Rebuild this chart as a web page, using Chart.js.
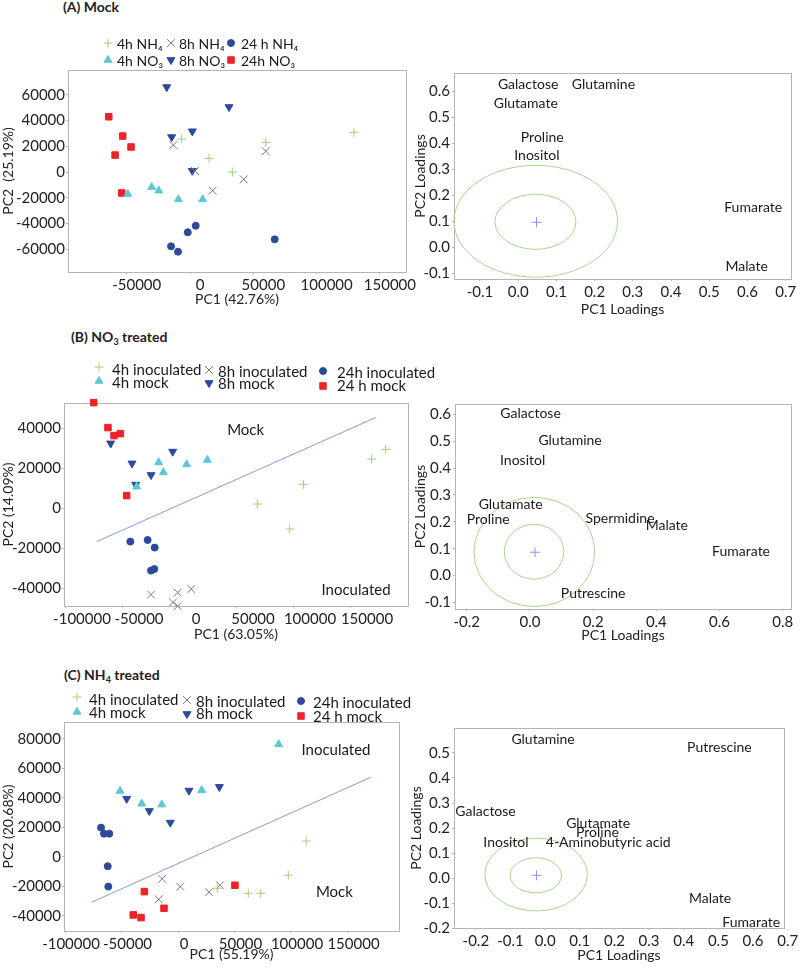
<!DOCTYPE html>
<html><head><meta charset="utf-8">
<script src="https://cdn.jsdelivr.net/npm/chart.js@4/dist/chart.umd.min.js"></script>
<style>
body{margin:0;background:#fff;width:800px;height:971px;position:relative;overflow:hidden;font-family:Lato,"Open Sans","DejaVu Sans",sans-serif;}
.ttl{position:absolute;font-weight:bold;font-size:14px;color:#222;line-height:16px;white-space:nowrap;}
.ttl sub{font-size:9px;vertical-align:-3px;line-height:0;}
canvas{position:absolute;}
</style></head><body>
<div class="ttl" style="left:63px;top:-1px">(A) Mock</div>
<div class="ttl" style="left:71px;top:329px">(B) NO<sub>3</sub> treated</div>
<div class="ttl" style="left:64px;top:667px">(C) NH<sub>4</sub> treated</div>
<script>
// ---------- DATA ----------
// Panel A (Mock) scores [PC1, PC2]
const A_labels = ['4h NH₄','8h NH₄','24 h NH₄','4h NO₃','8h NO₃','24h NO₃'];
const A_4hNH4  = [[-6600,25700],[15000,10600],[33400,0],[59800,23100],[129500,30900]];
const A_8hNH4  = [[-13200,21000],[3900,800],[17900,-14500],[42400,-5700],[59800,16300]];
const A_24hNH4 = [[-15000,-57800],[-9500,-62000],[-1800,-46900],[4500,-41800],[66900,-52400]];
const A_4hNO3  = [[-49200,-17100],[-30300,-11700],[-24700,-14500],[-9200,-21300],[10000,-21300]];
const A_8hNO3  = [[-18400,66100],[-14500,27200],[1800,31700],[1800,1000],[30800,50600]];
const A_24hNO3 = [[-64200,43000],[-53200,28000],[-59200,13200],[-46600,19500],[-54000,-16300]];
const A_xTicks = [-50000,0,50000,100000,150000];
const A_yTicks = [-60000,-40000,-20000,0,20000,40000,60000];

// Panel B (NO3 treated) scores
const B_labels = ['4h inoculated','8h inoculated','24h inoculated','4h mock','8h mock','24 h mock'];
const B_4hInoc  = [[67800,2000],[96200,-10500],[108200,11800],[168100,24500],[180400,29300]];
const B_8hInoc  = [[-25400,-43300],[-6100,-47200],[-2000,-42300],[-2000,-49000],[9900,-40500]];
const B_24hInoc = [[-43600,-16800],[-28400,-16000],[-22200,-19800],[-25400,-31300],[-22500,-30500]];
const B_4hMock  = [[-38000,10700],[-18700,22800],[-14600,17800],[5800,21800],[24000,24000]];
const B_8hMock  = [[-60800,32300],[-42100,22300],[-38900,11700],[-25400,16500],[-6400,28200]];
const B_24hMock = [[-75700,52700],[-63200,40200],[-57900,36200],[-52300,37200],[-46800,6200]];
const B_line = [[-73100,-16800],[171900,45300]];
const B_noteText = ['Mock','Inoculated'];
const B_notePos = [[57600,38700],[154400,-41300]];
const B_xTicks = [-100000,-50000,0,50000,100000,150000];
const B_yTicks = [-40000,-20000,0,20000,40000];

// Panel C (NH4 treated) scores
const C_labels = ['4h inoculated','8h inoculated','24h inoculated','4h mock','8h mock','24 h mock'];
const C_4hInoc  = [[34800,-21200],[62200,-24600],[73200,-24600],[97600,-12400],[113500,10800]];
const C_8hInoc  = [[-17100,-28700],[-13900,-14900],[2000,-20100],[27400,-23900],[37200,-19200]];
const C_24hInoc = [[-68100,19900],[-65500,15800],[-60800,15800],[-62200,-6300],[-61700,-20100]];
const C_4hMock  = [[-51300,44700],[-32100,36100],[-14400,35500],[21000,45200],[89100,76400]];
const C_8hMock  = [[-45400,39500],[-25400,31200],[-6800,23300],[9700,45000],[36600,47500]];
const C_24hMock = [[-39600,-39300],[-32700,-41100],[-29800,-23500],[-12400,-34800],[50400,-19200]];
const C_line = [[-76400,-30700],[170500,54000]];
const C_noteText = ['Inoculated','Mock'];
const C_notePos = [[139800,72500],[138400,-24200]];
const C_xTicks = [-100000,-50000,0,50000,100000,150000];
const C_yTicks = [-40000,-20000,0,20000,40000,60000,80000];

// Loadings
const LA_names = ['Galactose','Glutamine','Glutamate','Proline','Inositol','Fumarate','Malate'];
const LA_x = [0.026,0.223,0.020,0.063,0.049,0.615,0.598];
const LA_y = [0.627,0.627,0.554,0.422,0.351,0.154,-0.075];
const LA_ell = [[0.046,0.100,0.214,0.215],[0.045,0.098,0.106,0.106]];
const LA_center = [0.048,0.096];
const LA_xTicks = [-0.1,0,0.1,0.2,0.3,0.4,0.5,0.6,0.7];
const LA_yTicks = [-0.1,0,0.1,0.2,0.3,0.4,0.5,0.6];

const LB_names = ['Galactose','Glutamine','Inositol','Glutamate','Proline','Spermidine','Malate','Fumarate','Putrescine'];
const LB_x = [0.002,0.127,-0.023,-0.061,-0.132,0.285,0.433,0.668,0.200];
const LB_y = [0.601,0.504,0.428,0.263,0.207,0.212,0.186,0.088,-0.067];
const LB_ell = [[0.014,0.088,0.191,0.203],[0.013,0.089,0.094,0.102]];
const LB_center = [0.016,0.087];
const LB_xTicks = [-0.2,0,0.2,0.4,0.6,0.8];
const LB_yTicks = [-0.1,0,0.1,0.2,0.3,0.4,0.5,0.6];

const LC_names = ['Glutamine','Putrescine','Galactose','Glutamate','Proline','Inositol','4-Aminobutyric acid','Malate','Fumarate'];
const LC_x = [-0.006,0.503,-0.172,0.153,0.151,-0.113,0.182,0.476,0.595];
const LC_y = [0.555,0.522,0.265,0.219,0.182,0.142,0.142,-0.080,-0.175];
const LC_ell = [[-0.026,0.015,0.148,0.145],[-0.027,0.012,0.074,0.070]];
const LC_center = [-0.025,0.012];
const LC_xTicks = [-0.2,-0.1,0,0.1,0.2,0.3,0.4,0.5,0.6,0.7];
const LC_yTicks = [-0.2,-0.1,0,0.1,0.2,0.3,0.4,0.5];

// ---------- STYLES ----------
const FONT = 'Lato, "Open Sans", "DejaVu Sans", sans-serif';
Chart.defaults.font.family = FONT;
Chart.defaults.font.size = 14;
Chart.defaults.color = '#222';
const ST = [
  {style:'cross',    r:4.5, color:'#9ed27e', bw:1},
  {style:'crossRot', r:5.5, color:'#7a7a7a', bw:1},
  {style:'circle',   r:3.5, color:'#2c4a9c', bw:1},
  {style:'triangle', r:4.6, color:'#5fc6d6', bw:1},
  {style:'triangle', r:4.6, color:'#2c4a9c', bw:1, rot:180},
  {style:'rect',     r:4.6, color:'#ee2228', bw:1}
];
const AXIS = '#b5b5b5';

// ---------- PLUGINS ----------
const framePlugin = {id:'frame', beforeDatasetsDraw(c){
  const {left,top,right,bottom} = c.chartArea, ctx = c.ctx;
  ctx.save(); ctx.strokeStyle = AXIS; ctx.lineWidth = 1;
  ctx.strokeRect(Math.round(left)+0.5, Math.round(top)+0.5, Math.round(right-left), Math.round(bottom-top));
  ctx.restore();
}};
const ellipsePlugin = {id:'ellipses', beforeDatasetsDraw(c, a, o){
  if(!o.items) return;
  const xs = c.scales.x, ys = c.scales.y, ctx = c.ctx;
  ctx.save(); ctx.strokeStyle = o.color || '#a5d890'; ctx.lineWidth = 1;
  o.items.forEach(e => {
    const px = xs.getPixelForValue(e[0]), py = ys.getPixelForValue(e[1]);
    const rx = Math.abs(xs.getPixelForValue(e[0]+e[2]) - px);
    const ry = Math.abs(ys.getPixelForValue(e[1]+e[3]) - py);
    ctx.beginPath(); ctx.ellipse(px, py, rx, ry, 0, 0, Math.PI*2); ctx.stroke();
  });
  ctx.restore();
}};
const textPlugin = {id:'textLabels', afterDatasetsDraw(c){
  const ctx = c.ctx;
  c.data.datasets.forEach((ds, i) => {
    if(!ds.textLabels) return;
    const meta = c.getDatasetMeta(i);
    ctx.save(); ctx.font = ds.textFont; ctx.fillStyle = '#1a1a1a';
    ctx.textAlign = 'center'; ctx.textBaseline = 'middle';
    meta.data.forEach((pt, j) => ctx.fillText(ds.textLabels[j], pt.x, pt.y));
    ctx.restore();
  });
}};
const legendPlugin = {id:'gridLegend', afterDraw(c, a, o){
  if(!o.items) return;
  const ctx = c.ctx;
  o.items.forEach((it, i) => {
    const ds = c.data.datasets[i];
    ctx.save();
    ctx.fillStyle = ds.backgroundColor; ctx.strokeStyle = ds.borderColor; ctx.lineWidth = ds.borderWidth;
    Chart.helpers.drawPoint(ctx, {pointStyle: ds.pointStyle, rotation: ds.rotation || 0, radius: ds.pointRadius, borderWidth: ds.borderWidth}, it[0]-o.ox, it[1]-o.oy);
    ctx.fillStyle = '#1a1a1a'; ctx.font = o.font; ctx.textAlign = 'left'; ctx.textBaseline = 'middle';
    ctx.fillText(ds.label, it[2]-o.ox, it[3]-o.oy);
    ctx.restore();
  });
}};

// ---------- HELPERS ----------
function seriesDS(label, pts, st){
  return {label, data: pts.map(p => ({x:p[0], y:p[1]})), pointStyle: st.style, rotation: st.rot || 0,
    pointRadius: st.r, backgroundColor: st.color, borderColor: st.color, borderWidth: st.bw,
    showLine:false, clip:false};
}
function lineDS(pts){
  return {data: pts.map(p => ({x:p[0], y:p[1]})), showLine:true, pointRadius:0, borderColor:'#7f9fd6', borderWidth:1, fill:false, clip:false};
}
function textDS(texts, pts, font){
  return {data: pts.map(p => ({x:p[0], y:p[1]})), pointRadius:0, showLine:false, textLabels: texts, textFont: font, clip:false};
}
const fmtInt = v => String(v);
const fmt1 = v => (Math.abs(v) < 1e-9 ? 0 : v).toFixed(1);

function axis(range, ticks, title, fmt, fitFn, tf){
  return {type:'linear', min:range[0], max:range[1],
    afterBuildTicks: s => { s.ticks = ticks.map(v => ({value:v})); },
    afterFit: fitFn,
    ticks:{callback: fmt, autoSkip:false, maxRotation:0, padding:tf.pad, labelOffset:tf.off || 0, color:'#222', font:{size:tf.size}},
    grid:{drawOnChartArea:false, tickLength:2, color:AXIS},
    border:{color:AXIS},
    title:{display:true, text:title, padding:0, color:'#222', font:{size:14}}};
}
function makeChart(box, area, xr, yr, xt, yt, xTitle, yTitle, fmt, datasets, plugOpts, tfx, tfy){
  const cv = document.createElement('canvas');
  cv.width = box.w; cv.height = box.h;
  cv.style.left = box.x + 'px'; cv.style.top = box.y + 'px';
  cv.style.width = box.w + 'px'; cv.style.height = box.h + 'px';
  document.body.appendChild(cv);
  const yW = area.l - box.x, xH = box.y + box.h - area.b;
  return new Chart(cv, {
    type:'scatter',
    data:{datasets},
    options:{
      responsive:false, animation:false, devicePixelRatio:1, events:[],
      layout:{padding:{left:0, top: area.t - box.y, right: box.x + box.w - area.r, bottom:0}},
      plugins:Object.assign({legend:{display:false}, tooltip:{enabled:false}}, plugOpts),
      scales:{
        x: axis(xr, xt, xTitle, fmt, s => { s.height = xH; }, tfx),
        y: axis(yr, yt, yTitle, fmt, s => { s.width = yW; }, tfy)
      }
    },
    plugins:[framePlugin, ellipsePlugin, textPlugin, legendPlugin]
  });
}
const scoreY = {size:15, pad:1};
const loadX = {size:15, pad:2}, loadY = {size:15, pad:2};

// ---------- PANEL A ----------
{
  const box = {x:0, y:30, w:420, h:278};
  const ds = [A_4hNH4, A_8hNH4, A_24hNH4, A_4hNO3, A_8hNO3, A_24hNO3].map((s,i) => seriesDS(A_labels[i], s, ST[i]));
  makeChart(box, {l:68, r:406, t:70, b:272}, [-96400,170600], [-77800,79400], A_xTicks, A_yTicks,
    'PC1 (42.76%)', 'PC2  (25.19%)', fmtInt, ds,
    {gridLegend:{ox:box.x, oy:box.y, font:'14px ' + FONT, items:[
      [108,43,117,44],[171,43,179,44],[231,43,241,44],[108,60,117,61],[171,60,179,61],[231,60,241,61]]}},
    {size:15, pad:2, off:10}, scoreY);
}
{
  const box = {x:412, y:60, w:388, h:258};
  const ds = [textDS(LA_names, LA_names.map((n,i) => [LA_x[i], LA_y[i]]), '14px ' + FONT),
    {data:[{x:LA_center[0], y:LA_center[1]}], pointStyle:'cross', pointRadius:5, borderColor:'#8f90e0', borderWidth:1}];
  makeChart(box, {l:454, r:791, t:73, b:279}, [-0.168,0.714], [-0.122,0.670], LA_xTicks, LA_yTicks,
    'PC1 Loadings', 'PC2 Loadings', fmt1, ds, {ellipses:{items:LA_ell, color:'#a5d890'}}, loadX, loadY);
}

// ---------- PANEL B ----------
{
  const box = {x:0, y:355, w:442, h:288};
  const ds = [B_4hInoc, B_8hInoc, B_24hInoc, B_4hMock, B_8hMock, B_24hMock].map((s,i) => seriesDS(B_labels[i], s, ST[i]));
  ds.push(lineDS(B_line));
  ds.push(textDS(B_noteText, B_notePos, '15px ' + FONT));
  makeChart(box, {l:64, r:408, t:403, b:606}, [-101750,200000], [-49000,52500], B_xTicks, B_yTicks,
    'PC1 (63.05%)', 'PC2 (14.09%)', fmtInt, ds,
    {gridLegend:{ox:box.x, oy:box.y, font:'15px ' + FONT, items:[
      [99,367,112,370],[209,370,218,372],[323,371,337,373],[99,381,112,383],[209,383,218,384],[323,386,337,386]]}},
    {size:15, pad:2, off:16}, scoreY);
}
{
  const box = {x:412, y:390, w:388, h:254};
  const ds = [textDS(LB_names, LB_names.map((n,i) => [LB_x[i], LB_y[i]]), '14px ' + FONT),
    {data:[{x:LB_center[0], y:LB_center[1]}], pointStyle:'cross', pointRadius:5, borderColor:'#8f90e0', borderWidth:1}];
  makeChart(box, {l:455, r:791, t:404, b:609}, [-0.237,0.826], [-0.124,0.638], LB_xTicks, LB_yTicks,
    'PC1 Loadings', 'PC2 Loadings', fmt1, ds, {ellipses:{items:LB_ell, color:'#a5d890'}}, loadX, loadY);
}

// ---------- PANEL C ----------
{
  const box = {x:0, y:685, w:420, h:278};
  const ds = [C_4hInoc, C_8hInoc, C_24hInoc, C_4hMock, C_8hMock, C_24hMock].map((s,i) => seriesDS(C_labels[i], s, ST[i]));
  ds.push(lineDS(C_line));
  ds.push(textDS(C_noteText, C_notePos, '15px ' + FONT));
  makeChart(box, {l:64, r:399, t:722, b:931}, [-100900,195600], [-50200,91500], C_xTicks, C_yTicks,
    'PC1 (55.19%)', 'PC2 (20.68%)', fmtInt, ds,
    {gridLegend:{ox:box.x, oy:box.y, font:'15px ' + FONT, items:[
      [77,697,89,700],[187,700,196,702],[301,701,313,703],[77,712,89,713],[187,714,196,714],[301,716,313,717]]}},
    {size:15, pad:2, off:6}, scoreY);
}
{
  const box = {x:408, y:715, w:392, h:249};
  const ds = [textDS(LC_names, LC_names.map((n,i) => [LC_x[i], LC_y[i]]), '14px ' + FONT),
    {data:[{x:LC_center[0], y:LC_center[1]}], pointStyle:'cross', pointRadius:5, borderColor:'#8f90e0', borderWidth:1}];
  makeChart(box, {l:454, r:788, t:728, b:928}, [-0.263,0.689], [-0.198,0.599], LC_xTicks, LC_yTicks,
    'PC1 Loadings', 'PC2 Loadings', fmt1, ds, {ellipses:{items:LC_ell, color:'#a5d890'}}, loadX, loadY);
}
</script>
</body></html>
